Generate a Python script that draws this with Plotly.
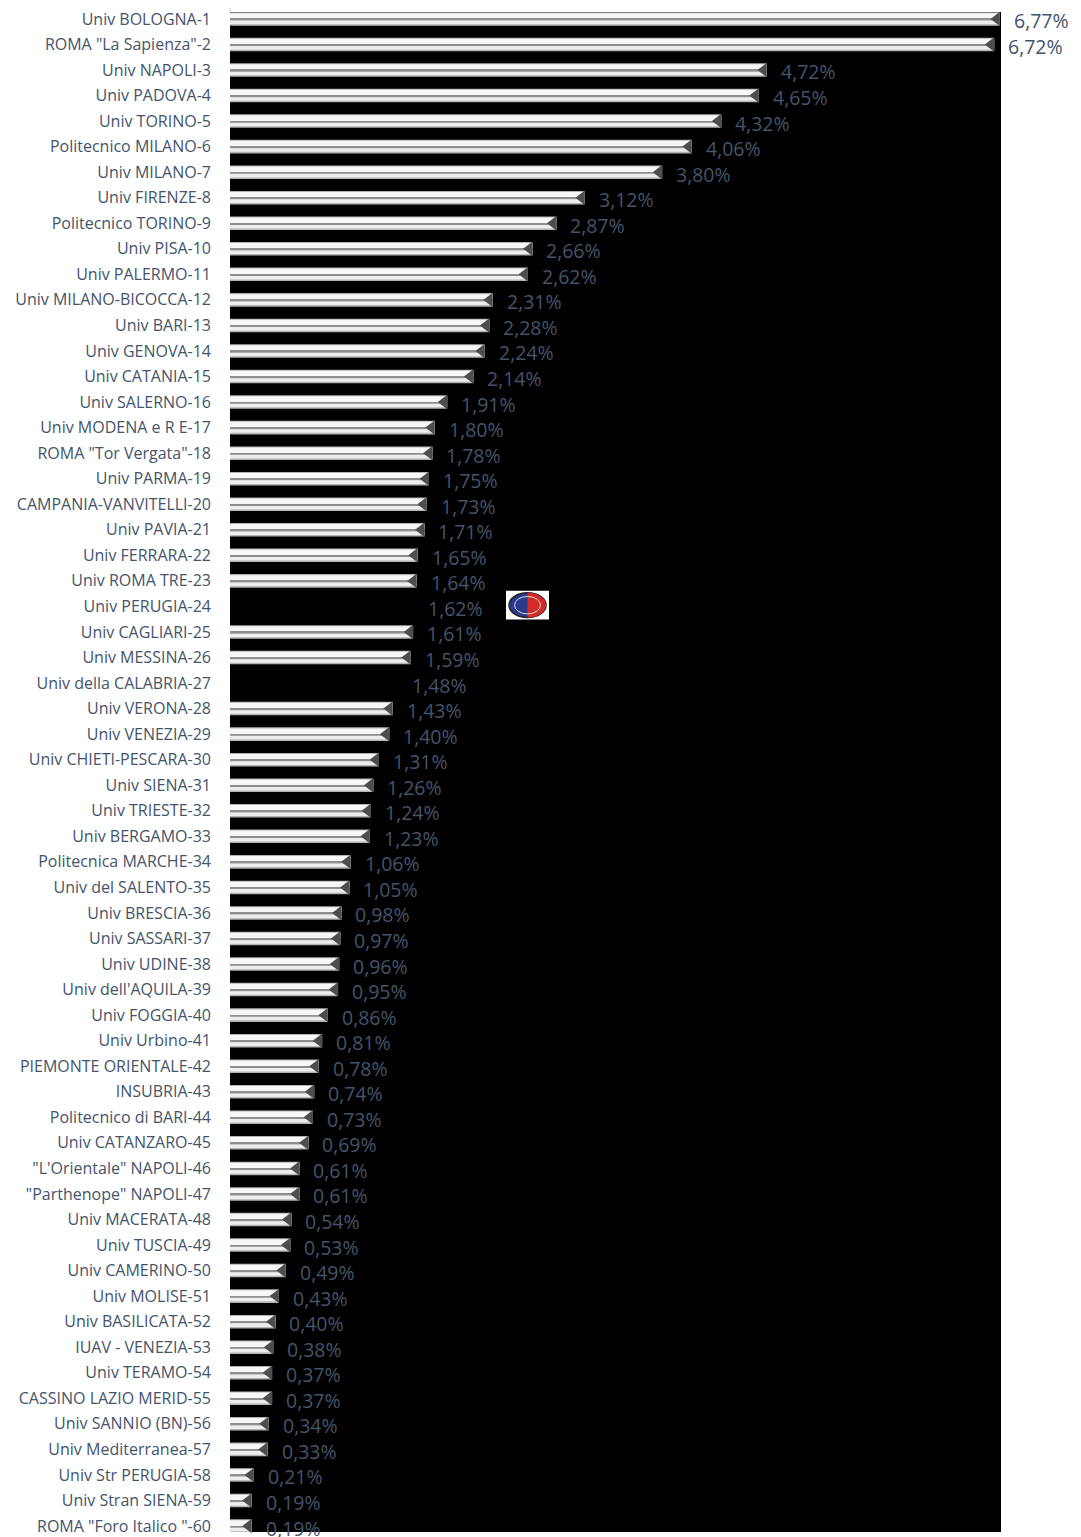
import plotly.graph_objects as go

universities = [
    "Univ BOLOGNA-1", 'ROMA "La Sapienza"-2', "Univ NAPOLI-3", "Univ PADOVA-4", "Univ TORINO-5",
    "Politecnico MILANO-6", "Univ MILANO-7", "Univ FIRENZE-8", "Politecnico TORINO-9", "Univ PISA-10",
    "Univ PALERMO-11", "Univ MILANO-BICOCCA-12", "Univ BARI-13", "Univ GENOVA-14", "Univ CATANIA-15",
    "Univ SALERNO-16", "Univ MODENA e R E-17", 'ROMA "Tor Vergata"-18', "Univ PARMA-19", "CAMPANIA-VANVITELLI-20",
    "Univ PAVIA-21", "Univ FERRARA-22", "Univ ROMA TRE-23", "Univ PERUGIA-24", "Univ CAGLIARI-25",
    "Univ MESSINA-26", "Univ della CALABRIA-27", "Univ VERONA-28", "Univ VENEZIA-29", "Univ CHIETI-PESCARA-30",
    "Univ SIENA-31", "Univ TRIESTE-32", "Univ BERGAMO-33", "Politecnica MARCHE-34", "Univ del SALENTO-35",
    "Univ BRESCIA-36", "Univ SASSARI-37", "Univ UDINE-38", "Univ dell'AQUILA-39", "Univ FOGGIA-40",
    "Univ Urbino-41", "PIEMONTE ORIENTALE-42", "INSUBRIA-43", "Politecnico di BARI-44", "Univ CATANZARO-45",
    '"L\'Orientale" NAPOLI-46', '"Parthenope" NAPOLI-47', "Univ MACERATA-48", "Univ TUSCIA-49", "Univ CAMERINO-50",
    "Univ MOLISE-51", "Univ BASILICATA-52", "IUAV - VENEZIA-53", "Univ TERAMO-54", "CASSINO LAZIO MERID-55",
    "Univ SANNIO (BN)-56", "Univ Mediterranea-57", "Univ Str PERUGIA-58", "Univ Stran SIENA-59", 'ROMA "Foro Italico "-60',
]
shares = [
    6.77, 6.72, 4.72, 4.65, 4.32, 4.06, 3.80, 3.12, 2.87, 2.66,
    2.62, 2.31, 2.28, 2.24, 2.14, 1.91, 1.80, 1.78, 1.75, 1.73,
    1.71, 1.65, 1.64, 1.62, 1.61, 1.59, 1.48, 1.43, 1.40, 1.31,
    1.26, 1.24, 1.23, 1.06, 1.05, 0.98, 0.97, 0.96, 0.95, 0.86,
    0.81, 0.78, 0.74, 0.73, 0.69, 0.61, 0.61, 0.54, 0.53, 0.49,
    0.43, 0.40, 0.38, 0.37, 0.37, 0.34, 0.33, 0.21, 0.19, 0.19,
]
hidden_bars = ["Univ PERUGIA-24", "Univ della CALABRIA-27"]
value_labels = [f"{v:.2f}".replace(".", ",") + "%" for v in shares]

# the page body adds an 8 px margin, so the figure is sized to fit the window
W, H = 1073, 1529
ML, MR, MT, MB = 222, 80, 3, 0
XMAX = 6.78
plot_w = W - ML - MR
plot_h = H - MT - MB
px_per_unit = plot_w / XMAX

TXT = "#44546A"
FONT = "Open Sans"


def colors(c):
    return ["#000000" if u in hidden_bars else c for u in universities]


fig = go.Figure()
layers = [
    (-0.265, 0.53, "#b3b3b3"),
    (-0.225, 0.225, "#f7f7f7"),
    (0.00, 0.065, "#8e8e8e"),
    (0.065, 0.14, "#ededed"),
]
for off, wd, col in layers:
    fig.add_trace(go.Bar(
        x=shares, y=universities, orientation="h",
        offset=off, width=wd,
        marker=dict(color=colors(col), line=dict(width=0)),
        hoverinfo="skip", showlegend=False,
    ))

# bevelled bar ends
tri_size = 12.5
fig.add_trace(go.Scatter(
    x=[v - (tri_size / 4) / px_per_unit for v in shares], y=universities,
    mode="markers",
    marker=dict(symbol="triangle-left", size=tri_size, color=colors("#4d4d4d"),
                line=dict(width=0)),
    hoverinfo="skip", showlegend=False, cliponaxis=False,
))

annotations = []
for u, v, t in zip(universities, shares, value_labels):
    annotations.append(dict(
        x=v, y=u, xref="x", yref="y", text=t, showarrow=False,
        xanchor="left", yanchor="middle", xshift=12, yshift=-2,
        font=dict(family=FONT, size=19.5, color=TXT),
    ))


def px_to_paper(px, py):
    # px, py are window pixels; the figure sits 8 px in from the corner
    return (px - 8 - ML) / plot_w, 1 - (py - 8 - MT) / plot_h


# small logo next to Perugia
x0, y0 = px_to_paper(506, 592)
x1, y1 = px_to_paper(549, 621)
cx, cy = px_to_paper(527.5, 606.5)
rx = 18.5 / plot_w
ry = 12.5 / plot_h
k = 0.5523
_, axis_top = px_to_paper(230, 5)
shapes = [
    dict(type="line", xref="paper", yref="paper", x0=0, x1=0, y0=1, y1=axis_top,
         line=dict(color="#d0d0d0", width=1)),
    dict(type="rect", xref="paper", yref="paper", x0=x0, y0=y0, x1=x1, y1=y1,
         fillcolor="white", line=dict(width=0), layer="above"),
    dict(type="circle", xref="paper", yref="paper", x0=cx - rx, y0=cy - ry, x1=cx + rx, y1=cy + ry,
         fillcolor="#2a3a8c", line=dict(color="#222222", width=1.5), layer="above"),
    dict(type="path", xref="paper", yref="paper",
         path=(f"M{cx},{cy + ry} C{cx + k * rx},{cy + ry} {cx + rx},{cy + k * ry} {cx + rx},{cy} "
               f"C{cx + rx},{cy - k * ry} {cx + k * rx},{cy - ry} {cx},{cy - ry} Z"),
         fillcolor="#d42a2a", line=dict(width=0), layer="above"),
    dict(type="circle", xref="paper", yref="paper", x0=cx - rx * 0.7, y0=cy - ry * 0.7,
         x1=cx + rx * 0.7, y1=cy + ry * 0.7,
         fillcolor="rgba(0,0,0,0)", line=dict(color="#dddddd", width=1), layer="above"),
]

fig.update_layout(
    width=W, height=H,
    margin=dict(l=ML, r=MR, t=MT, b=MB, pad=0),
    paper_bgcolor="white", plot_bgcolor="black",
    barmode="overlay",
    showlegend=False,
    annotations=annotations,
    shapes=shapes,
    font=dict(family=FONT, color=TXT),
    xaxis=dict(range=[0, XMAX], visible=False, fixedrange=True),
    yaxis=dict(
        type="category", categoryorder="array", categoryarray=universities,
        range=[len(universities) - 1 + 0.234, -0.27],
        showgrid=False, zeroline=False, showline=False, ticks="",
        ticklabelstandoff=18,
        tickfont=dict(family=FONT, size=16, color=TXT),
        fixedrange=True,
    ),
)

fig.write_html("out.html")
